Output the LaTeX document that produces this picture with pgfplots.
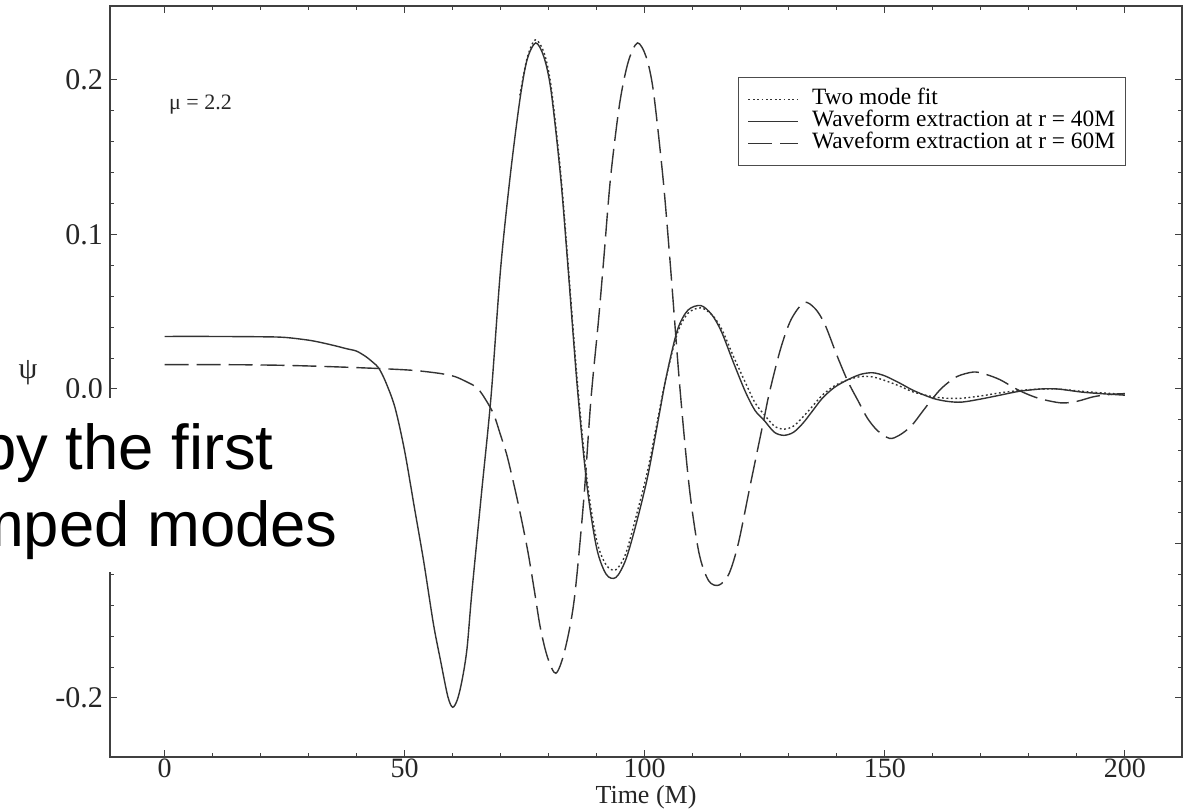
\documentclass[border=0pt]{standalone}
\usepackage{fontspec}
\setmainfont{Liberation Serif}
\newfontfamily\arialfont{Liberation Sans}
\usepackage{pgfplots}
\pgfplotsset{compat=1.18}

\begin{document}
\begin{tikzpicture}
\begin{axis}[
  name=ax,
  scale only axis, width=536pt, height=375.5pt,
  xmin=-11.35, xmax=211.9, ymin=-0.2382, ymax=0.2479,
  xtick={0,50,100,150,200}, xticklabels={0,50,100,150,200},
  ytick={-0.2,-0.1,0,0.1,0.2}, yticklabels={-0.2,,0.0,0.1,0.2},
  minor tick num=4,
  tick align=inside, major tick length=3.5pt, minor tick length=2pt,
  every tick/.style={black!75, line width=0.5pt},
  axis line style={black!75, line width=0.6pt},
  ticklabel style={font=\fontsize{15}{15}\selectfont, text=black!85},
  xticklabel style={font=\fontsize{14}{14}\selectfont, yshift=2.5pt},
  xlabel={Time (M)},
  xlabel style={at={(axis description cs:0.5,0)}, anchor=base, yshift=-23pt,
                font=\fontsize{13}{13}\selectfont, text=black!85},
  legend style={at={(0.586,0.9055)}, anchor=north west, draw=black!70, line width=0.5pt,
                fill=white, inner xsep=4.5pt, inner ysep=5.5pt,
                font=\fontsize{11.7}{11.7}\selectfont, row sep=0pt,
                nodes={inner sep=0.5pt, text height=7.5pt, text depth=2.5pt}},
  legend cell align=left,
  legend image code/.code={\draw[#1] (0pt,0pt) -- (25pt,0pt); \path (31pt,0pt);},
]
% two mode fit
\addplot[black!80, line width=0.7pt, smooth, dash pattern=on 0.9pt off 1.3pt] coordinates {
(74,0.190) (75.5,0.214) (77.2,0.226) (79,0.218) (80.5,0.196) (82.5,0.140) (84,0.083)
(86,0.004) (88,-0.059) (90,-0.098) (92,-0.114) (94,-0.117) (96,-0.107) (98,-0.085)
(100.6,-0.053) (103,-0.015) (104.5,0.008) (106.8,0.036) (109,0.049) (111.7,0.0525)
(114,0.048) (116,0.039) (118.5,0.021) (121,0.004) (123,-0.009) (125,-0.017) (127,-0.024)
(129,-0.026) (131,-0.024) (133,-0.018) (135,-0.011) (137,-0.004) (139.5,0.002)
(142.3,0.006) (145,0.008) (147.5,0.0078) (150,0.0055) (153,0.002) (156,-0.002)
(160,-0.005) (163,-0.006) (166,-0.006) (170,-0.0045) (174,-0.0025) (178,-0.001)
(182.5,0.000) (186,0.000) (191,-0.0015) (195,-0.0025) (200,-0.0035)};
\addlegendentry{Two mode fit}
% extraction at r = 40M
\addplot[black!80, line width=0.7pt, smooth] coordinates {
(0,0.0340) (10,0.0340) (20,0.0338) (25,0.0334) (30,0.0316) (33,0.0298) (36,0.0276)
(38,0.0260) (40,0.0245) (42,0.0208) (43.5,0.0170) (44.6,0.0136) (46,0.0050) (48,-0.0120)
(50,-0.0400) (52,-0.0760) (54,-0.1120) (56,-0.1520) (57.5,-0.1760) (59,-0.1990)
(60,-0.2060) (61,-0.2010) (62,-0.1880) (63,-0.1680) (64,-0.1320) (66,-0.0680)
(68,-0.0050) (70,0.0780) (72,0.1380) (74,0.1870) (75.5,0.2130) (77.3,0.2240)
(79,0.2150) (80.5,0.1930) (82.5,0.1370) (84,0.0800) (86,0.0000) (88,-0.0630)
(90,-0.1030) (92,-0.1200) (94,-0.1220) (96,-0.1110) (98,-0.0900) (100.6,-0.0570)
(103,-0.0170) (104.5,0.0080) (106.8,0.0380) (109,0.0510) (111.7,0.0540) (114,0.0480)
(116,0.0370) (118.5,0.0170) (121,-0.0020) (123,-0.0140) (124.8,-0.0200) (127,-0.0280)
(129,-0.0300) (131,-0.0280) (133,-0.0220) (135,-0.0140) (137,-0.0060) (139.5,0.0010)
(142.3,0.0060) (145,0.0095) (147.5,0.0105) (150,0.0085) (153,0.0040) (156,-0.0010)
(160,-0.0060) (163,-0.0080) (166,-0.0085) (170,-0.0065) (174,-0.0040) (178,-0.0015)
(182.5,0.0000) (186,0.0000) (191,-0.0020) (195,-0.0030) (200,-0.0040)};
\addlegendentry{Waveform extraction at r = 40M}
% extraction at r = 60M
\addplot[black!80, line width=0.7pt, smooth, dash pattern=on 12pt off 4pt] coordinates {
(0,0.0158) (15,0.0157) (25,0.0153) (35,0.0144) (45,0.0132) (52,0.0120) (57.5,0.0100)
(60.5,0.0080) (63,0.0045) (65,0.0010) (66.5,-0.0050) (68.5,-0.0160) (70,-0.0300)
(71.4,-0.0440) (73.5,-0.0720) (75.6,-0.1040) (77,-0.1300) (78.3,-0.1550) (79.8,-0.1740)
(81.5,-0.1840) (83.3,-0.1700) (85.3,-0.1370) (87.3,-0.0720) (88.8,-0.0070) (90.4,0.0450)
(91.5,0.0850) (92.9,0.1370) (94.8,0.1850) (96.6,0.2120) (98.5,0.2240) (100.3,0.2150)
(101.8,0.1930) (103.8,0.1370) (105.3,0.0820) (107.3,0.0020) (109.3,-0.0640)
(111.3,-0.1060) (113.3,-0.1240) (115.4,-0.1270) (117.5,-0.1200) (119.5,-0.1000)
(122,-0.0620) (124.8,-0.0200) (126,-0.0020) (128.3,0.0260) (130.5,0.0450) (133.2,0.0560)
(135.5,0.0520) (137.5,0.0420) (140,0.0220) (142.3,0.0050) (144.5,-0.0080) (146.4,-0.0190)
(148.5,-0.0270) (151,-0.0320) (153,-0.0300) (155.5,-0.0240) (158,-0.0140) (160,-0.0060)
(162,0.0010) (165,0.0080) (168.5,0.0110) (171,0.0095) (174,0.0060) (178,-0.0010)
(182,-0.0060) (186.7,-0.0090) (190,-0.0080) (193.5,-0.0050) (197,-0.0035) (200,-0.0030)};
\addlegendentry{Waveform extraction at r = 60M}
\node[font=\fontsize{11}{11}\selectfont, text=black!85] at (axis cs:7.5,0.1838) {μ = 2.2};
\end{axis}
\node[font=\fontsize{15}{15}\selectfont, text=black!85] at ([shift={(-41pt,192pt)}]ax.south west) {ψ};
\begin{scope}
\clip ([shift={(-55pt,-25.5pt)}]ax.south west) rectangle ([shift={(541pt,378.5pt)}]ax.south west);
\fill[white] ([shift={(-56pt,92.5pt)}]ax.south west) rectangle ([shift={(126pt,179.5pt)}]ax.south west);
\node[anchor=base east, inner sep=0pt, font=\arialfont\fontsize{31.7}{31.7}\selectfont]
  at ([shift={(82pt,143.5pt)}]ax.south west) {by the first};
\node[anchor=base east, inner sep=0pt, font=\arialfont\fontsize{31.7}{31.7}\selectfont]
  at ([shift={(114pt,105pt)}]ax.south west) {mped modes};
\end{scope}
\pgfresetboundingbox
\path ([shift={(-55pt,-25.5pt)}]ax.south west) rectangle ([shift={(541pt,378.5pt)}]ax.south west);
\end{tikzpicture}
\end{document}
